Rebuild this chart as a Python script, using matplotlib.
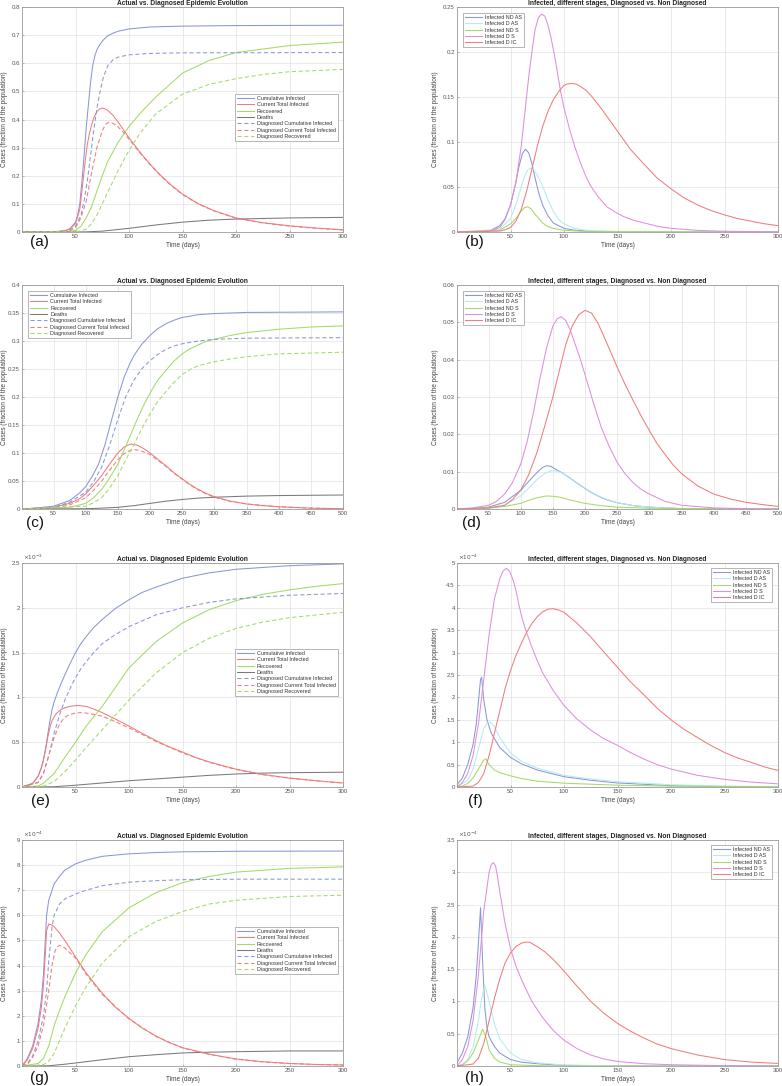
import numpy as np
import matplotlib
matplotlib.use('Agg')
import matplotlib.pyplot as plt
from matplotlib.ticker import FuncFormatter

plt.rcParams['font.family'] = ['Liberation Sans', 'DejaVu Sans']

# ---------------- data ----------------
evo_labels = ['Cumulative Infected', 'Current Total Infected', 'Recovered', 'Deaths',
              'Diagnosed Cumulative Infected', 'Diagnosed Current Total Infected',
              'Diagnosed Recovered']
stage_labels = ['Infected ND AS', 'Infected D AS', 'Infected ND S', 'Infected D S', 'Infected D IC']

# (a) fraction of population
a_cum_t = [0, 30, 40, 45, 50, 52, 54, 56, 58, 60, 62, 64, 66, 68, 70, 73, 76, 80, 85, 90, 100, 120, 150, 200, 300]
a_cum_v = [0, 0.001, 0.004, 0.012, 0.035, 0.06, 0.1, 0.18, 0.27, 0.37, 0.45, 0.53, 0.59, 0.625, 0.648, 0.668, 0.683, 0.697, 0.707, 0.714, 0.722, 0.729, 0.732, 0.734, 0.735]
a_cur_t = [0, 30, 40, 45, 50, 54, 57, 59, 61, 63, 65, 67, 70, 72, 74, 76, 78, 80, 85, 90, 95, 100, 105, 110, 115, 120, 130, 140, 150, 165, 180, 200, 225, 250, 275, 300]
a_cur_v = [0, 0.001, 0.004, 0.011, 0.03, 0.08, 0.18, 0.25, 0.31, 0.35, 0.38, 0.405, 0.428, 0.436, 0.44, 0.44, 0.437, 0.433, 0.415, 0.39, 0.362, 0.335, 0.31, 0.285, 0.262, 0.24, 0.2, 0.165, 0.135, 0.1, 0.075, 0.05, 0.033, 0.022, 0.014, 0.008]
a_rec_t = [0, 45, 50, 55, 60, 65, 70, 75, 80, 90, 100, 110, 125, 150, 175, 200, 250, 300]
a_rec_v = [0, 0.002, 0.006, 0.02, 0.05, 0.09, 0.145, 0.2, 0.25, 0.32, 0.375, 0.42, 0.48, 0.565, 0.61, 0.638, 0.663, 0.675]
a_dea_t = [0, 60, 75, 100, 125, 150, 175, 200, 250, 300]
a_dea_v = [0, 0.0005, 0.003, 0.013, 0.025, 0.035, 0.042, 0.046, 0.05, 0.052]
a_dcum_t = [0, 35, 45, 50, 55, 58, 61, 64, 67, 70, 73, 76, 80, 85, 90, 100, 120, 150, 300]
a_dcum_v = [0, 0.001, 0.007, 0.02, 0.06, 0.11, 0.18, 0.27, 0.36, 0.44, 0.5, 0.55, 0.59, 0.612, 0.622, 0.63, 0.635, 0.637, 0.638]
a_dcur_t = [0, 35, 45, 50, 55, 60, 65, 70, 75, 78, 81, 84, 87, 90, 95, 100, 110, 120, 130, 140, 150, 165, 180, 200, 225, 250, 275, 300]
a_dcur_v = [0, 0.001, 0.006, 0.015, 0.05, 0.11, 0.21, 0.30, 0.36, 0.382, 0.39, 0.388, 0.382, 0.373, 0.353, 0.33, 0.282, 0.238, 0.198, 0.163, 0.133, 0.099, 0.074, 0.049, 0.032, 0.021, 0.013, 0.007]
a_drec_t = [0, 50, 55, 60, 65, 70, 75, 80, 90, 100, 110, 125, 150, 175, 200, 225, 250, 300]
a_drec_v = [0, 0.001, 0.004, 0.01, 0.03, 0.06, 0.1, 0.14, 0.22, 0.29, 0.35, 0.42, 0.49, 0.525, 0.545, 0.56, 0.57, 0.578]

# (b)
b_ndas_t = [0, 30, 40, 45, 50, 55, 58, 61, 64, 67, 70, 73, 76, 80, 85, 90, 100, 110, 130, 300]
b_ndas_v = [0, 0.001, 0.007, 0.015, 0.03, 0.055, 0.073, 0.087, 0.092, 0.088, 0.076, 0.06, 0.045, 0.03, 0.018, 0.01, 0.004, 0.002, 0.0005, 0]
b_das_t = [0, 40, 50, 55, 60, 63, 66, 69, 72, 75, 78, 81, 85, 90, 95, 100, 110, 120, 150, 300]
b_das_v = [0, 0.003, 0.015, 0.03, 0.05, 0.061, 0.069, 0.071, 0.069, 0.063, 0.056, 0.048, 0.036, 0.023, 0.014, 0.009, 0.004, 0.002, 0.0005, 0]
b_nds_t = [0, 40, 50, 55, 60, 63, 66, 69, 72, 75, 80, 85, 90, 100, 120, 300]
b_nds_v = [0, 0.002, 0.009, 0.015, 0.023, 0.027, 0.028, 0.026, 0.021, 0.017, 0.01, 0.006, 0.004, 0.002, 0.0005, 0]
b_ds_t = [0, 30, 40, 45, 50, 55, 60, 62, 65, 67, 70, 73, 76, 79, 82, 85, 88, 91, 94, 97, 100, 105, 110, 115, 120, 125, 132, 140, 148, 156, 165, 175, 187, 200, 225, 250, 300]
b_ds_v = [0, 0.001, 0.005, 0.014, 0.03, 0.055, 0.095, 0.117, 0.15, 0.172, 0.2, 0.225, 0.238, 0.242, 0.24, 0.23, 0.215, 0.197, 0.176, 0.155, 0.138, 0.115, 0.095, 0.078, 0.063, 0.051, 0.039, 0.028, 0.022, 0.017, 0.013, 0.01, 0.0065, 0.004, 0.0018, 0.0008, 0.0002]
b_dic_t = [0, 40, 45, 50, 55, 60, 65, 70, 75, 80, 85, 90, 95, 100, 103, 107, 111, 115, 120, 125, 135, 150, 162, 175, 187, 200, 212, 225, 237, 250, 262, 275, 287, 300]
b_dic_v = [0, 0.001, 0.0025, 0.005, 0.012, 0.025, 0.045, 0.07, 0.095, 0.117, 0.134, 0.147, 0.156, 0.163, 0.1645, 0.165, 0.1645, 0.162, 0.158, 0.152, 0.137, 0.112, 0.092, 0.075, 0.06, 0.048, 0.038, 0.03, 0.024, 0.019, 0.015, 0.012, 0.0092, 0.007]

# (c)
c_cum_t = [1, 25, 50, 75, 90, 100, 110, 120, 130, 140, 150, 160, 168, 175, 187, 200, 212, 225, 237, 250, 275, 300, 350, 500]
c_cum_v = [0, 0.002, 0.005, 0.015, 0.028, 0.04, 0.058, 0.08, 0.115, 0.158, 0.2, 0.236, 0.258, 0.274, 0.294, 0.31, 0.322, 0.331, 0.337, 0.342, 0.347, 0.349, 0.351, 0.352]
c_cur_t = [1, 50, 75, 90, 100, 112, 125, 137, 150, 160, 170, 180, 190, 200, 212, 225, 237, 250, 262, 275, 287, 300, 325, 350, 375, 400, 450, 500]
c_cur_v = [0, 0.003, 0.01, 0.018, 0.027, 0.042, 0.06, 0.08, 0.1, 0.111, 0.116, 0.114, 0.108, 0.1, 0.089, 0.077, 0.065, 0.054, 0.044, 0.035, 0.028, 0.022, 0.014, 0.009, 0.006, 0.004, 0.0015, 0.0005]
c_rec_t = [1, 75, 100, 112, 125, 137, 150, 160, 170, 180, 190, 200, 212, 225, 237, 250, 262, 275, 287, 300, 325, 350, 400, 450, 500]
c_rec_v = [0, 0.003, 0.01, 0.02, 0.035, 0.055, 0.08, 0.106, 0.133, 0.16, 0.185, 0.207, 0.23, 0.248, 0.264, 0.277, 0.286, 0.293, 0.299, 0.303, 0.31, 0.315, 0.321, 0.325, 0.327]
c_dea_t = [1, 100, 125, 150, 175, 200, 225, 250, 275, 300, 350, 400, 500]
c_dea_v = [0, 0.0005, 0.0015, 0.003, 0.006, 0.01, 0.014, 0.017, 0.0195, 0.021, 0.023, 0.024, 0.025]
c_dcum_t = [1, 50, 75, 100, 112, 125, 137, 150, 162, 175, 187, 200, 212, 225, 237, 250, 275, 300, 350, 500]
c_dcum_v = [0, 0.003, 0.012, 0.03, 0.048, 0.075, 0.113, 0.16, 0.2, 0.23, 0.25, 0.265, 0.276, 0.285, 0.291, 0.295, 0.3, 0.303, 0.305, 0.306]
c_dcur_t = [1, 50, 75, 100, 112, 125, 137, 150, 160, 168, 175, 183, 192, 200, 212, 225, 237, 250, 262, 275, 287, 300, 325, 350, 400, 450, 500]
c_dcur_v = [0, 0.002, 0.007, 0.02, 0.033, 0.05, 0.069, 0.088, 0.099, 0.104, 0.106, 0.105, 0.101, 0.097, 0.087, 0.076, 0.064, 0.053, 0.043, 0.034, 0.027, 0.021, 0.0135, 0.009, 0.004, 0.0015, 0.0005]
c_drec_t = [1, 100, 112, 125, 137, 150, 162, 175, 187, 200, 212, 225, 237, 250, 262, 275, 300, 325, 350, 400, 500]
c_drec_v = [0, 0.005, 0.011, 0.02, 0.037, 0.06, 0.087, 0.115, 0.143, 0.17, 0.192, 0.21, 0.226, 0.24, 0.249, 0.256, 0.263, 0.268, 0.272, 0.277, 0.28]

# (d)
d_ndas_t = [1, 25, 50, 75, 100, 112, 125, 133, 140, 147, 155, 165, 175, 187, 200, 212, 225, 237, 250, 275, 300, 350, 500]
d_ndas_v = [0, 0.0001, 0.0005, 0.0018, 0.005, 0.0073, 0.0097, 0.011, 0.0116, 0.0114, 0.0106, 0.0096, 0.0085, 0.007, 0.0055, 0.0042, 0.0031, 0.0023, 0.0017, 0.0009, 0.0005, 0.0001, 0]
d_das_t = [1, 50, 75, 100, 112, 125, 137, 148, 158, 167, 175, 187, 200, 212, 225, 237, 250, 275, 300, 350, 500]
d_das_v = [0, 0.0002, 0.001, 0.0035, 0.0055, 0.0078, 0.0095, 0.0103, 0.0101, 0.0094, 0.0086, 0.0071, 0.0056, 0.0043, 0.0032, 0.0024, 0.0017, 0.0009, 0.0005, 0.0001, 0]
d_nds_t = [1, 50, 75, 100, 112, 125, 140, 150, 160, 175, 200, 225, 250, 300, 500]
d_nds_v = [0, 0.0002, 0.0007, 0.0015, 0.0023, 0.003, 0.0035, 0.0034, 0.0032, 0.0025, 0.0015, 0.0009, 0.0005, 0.0002, 0]
d_ds_t = [1, 25, 50, 62, 75, 87, 100, 110, 120, 130, 140, 150, 157, 163, 170, 177, 185, 193, 200, 212, 225, 237, 250, 262, 275, 287, 300, 325, 350, 400, 450, 500]
d_ds_v = [0, 0.0003, 0.001, 0.002, 0.004, 0.007, 0.012, 0.018, 0.026, 0.035, 0.043, 0.049, 0.051, 0.0515, 0.0505, 0.048, 0.044, 0.04, 0.036, 0.029, 0.022, 0.017, 0.0125, 0.0095, 0.007, 0.0053, 0.004, 0.002, 0.001, 0.0003, 0.0001, 0]
d_dic_t = [1, 50, 75, 87, 100, 112, 125, 137, 150, 160, 170, 180, 190, 200, 210, 220, 230, 240, 250, 262, 275, 287, 300, 312, 325, 337, 350, 375, 400, 425, 450, 475, 500]
d_dic_v = [0, 0.0003, 0.001, 0.0025, 0.005, 0.009, 0.015, 0.022, 0.03, 0.037, 0.044, 0.049, 0.052, 0.0532, 0.0525, 0.0498, 0.046, 0.042, 0.038, 0.0335, 0.029, 0.025, 0.021, 0.0175, 0.0145, 0.0118, 0.0095, 0.0062, 0.004, 0.0027, 0.0018, 0.0012, 0.0007]

# (e) in units of 1e-3
e_cum_t = [0, 10, 15, 18, 20, 22, 24, 26, 28, 30, 33, 36, 40, 45, 50, 55, 60, 67, 75, 87, 100, 112, 125, 150, 175, 200, 250, 300]
e_cum_v = [0, 0.04, 0.12, 0.21, 0.3, 0.42, 0.58, 0.73, 0.86, 0.95, 1.05, 1.14, 1.25, 1.38, 1.5, 1.6, 1.68, 1.78, 1.87, 1.99, 2.09, 2.17, 2.23, 2.33, 2.39, 2.43, 2.47, 2.49]
e_cur_t = [0, 10, 15, 18, 20, 22, 24, 26, 28, 32, 36, 40, 45, 52, 60, 67, 75, 87, 100, 112, 125, 137, 150, 162, 175, 187, 200, 225, 250, 275, 300]
e_cur_v = [0, 0.04, 0.12, 0.21, 0.3, 0.42, 0.55, 0.66, 0.74, 0.82, 0.86, 0.885, 0.9, 0.91, 0.9, 0.87, 0.83, 0.76, 0.68, 0.6, 0.52, 0.45, 0.39, 0.33, 0.28, 0.24, 0.2, 0.14, 0.1, 0.07, 0.045]
e_rec_t = [0, 15, 20, 30, 40, 50, 60, 75, 100, 125, 150, 175, 200, 225, 250, 275, 300]
e_rec_v = [0, 0.01, 0.04, 0.15, 0.33, 0.5, 0.68, 0.9, 1.33, 1.62, 1.83, 1.98, 2.08, 2.15, 2.2, 2.24, 2.27]
e_dea_t = [0, 30, 50, 75, 100, 125, 150, 175, 200, 225, 250, 300]
e_dea_v = [0, 0.003, 0.02, 0.045, 0.07, 0.09, 0.11, 0.13, 0.145, 0.155, 0.16, 0.165]
e_dcum_t = [0, 15, 20, 25, 28, 30, 35, 40, 45, 50, 55, 60, 67, 75, 87, 100, 125, 150, 175, 200, 250, 300]
e_dcum_v = [0, 0.05, 0.15, 0.35, 0.5, 0.6, 0.8, 0.97, 1.1, 1.22, 1.32, 1.4, 1.5, 1.6, 1.7, 1.79, 1.92, 2.0, 2.06, 2.1, 2.14, 2.16]
e_dcur_t = [0, 15, 20, 25, 28, 30, 35, 40, 45, 50, 55, 60, 67, 75, 87, 100, 125, 150, 175, 200, 225, 250, 275, 300]
e_dcur_v = [0, 0.05, 0.15, 0.35, 0.47, 0.55, 0.7, 0.78, 0.81, 0.825, 0.83, 0.825, 0.81, 0.79, 0.73, 0.66, 0.51, 0.38, 0.275, 0.195, 0.137, 0.098, 0.068, 0.044]
e_drec_t = [0, 20, 30, 40, 50, 60, 75, 100, 125, 150, 175, 200, 225, 250, 275, 300]
e_drec_v = [0, 0.01, 0.06, 0.17, 0.3, 0.44, 0.64, 0.97, 1.27, 1.5, 1.66, 1.77, 1.84, 1.89, 1.92, 1.95]

# (f) in units of 1e-4
f_ndas_t = [0, 5, 10, 15, 18, 20, 22, 23, 25, 28, 32, 40, 50, 60, 75, 100, 125, 150, 200, 250, 300]
f_ndas_v = [0.05, 0.2, 0.5, 0.95, 1.4, 1.9, 2.4, 2.45, 1.95, 1.5, 1.2, 0.88, 0.66, 0.52, 0.38, 0.23, 0.15, 0.09, 0.03, 0.01, 0.005]
f_das_t = [0, 10, 15, 20, 25, 28, 30, 32, 35, 40, 50, 60, 75, 100, 125, 150, 200, 250, 300]
f_das_v = [0, 0.15, 0.4, 0.85, 1.3, 1.42, 1.45, 1.43, 1.35, 1.1, 0.76, 0.58, 0.42, 0.26, 0.18, 0.12, 0.05, 0.02, 0.01]
f_nds_t = [0, 5, 10, 15, 20, 25, 27, 30, 35, 40, 50, 60, 75, 100, 150, 200, 300]
f_nds_v = [0, 0.02, 0.08, 0.2, 0.4, 0.6, 0.63, 0.5, 0.38, 0.32, 0.25, 0.19, 0.13, 0.085, 0.04, 0.02, 0.005]
f_ds_t = [0, 5, 10, 15, 20, 25, 30, 35, 40, 43, 46, 49, 52, 55, 58, 61, 65, 70, 75, 80, 90, 100, 112, 125, 137, 150, 162, 175, 187, 200, 225, 250, 275, 300]
f_ds_v = [0, 0.1, 0.3, 0.7, 1.4, 2.4, 3.4, 4.2, 4.65, 4.82, 4.88, 4.82, 4.65, 4.4, 4.05, 3.75, 3.45, 3.12, 2.82, 2.55, 2.15, 1.82, 1.52, 1.27, 1.08, 0.93, 0.77, 0.62, 0.5, 0.4, 0.26, 0.17, 0.11, 0.07]
f_dic_t = [0, 15, 20, 25, 30, 35, 40, 45, 50, 55, 60, 65, 70, 75, 80, 85, 90, 95, 100, 112, 125, 137, 150, 162, 175, 187, 200, 212, 225, 237, 250, 262, 275, 287, 300]
f_dic_v = [0, 0.02, 0.1, 0.3, 0.7, 1.2, 1.7, 2.2, 2.6, 2.93, 3.2, 3.45, 3.65, 3.8, 3.91, 3.97, 3.98, 3.95, 3.9, 3.66, 3.35, 3.02, 2.67, 2.35, 2.05, 1.76, 1.5, 1.29, 1.1, 0.93, 0.77, 0.65, 0.55, 0.45, 0.37]

# (g) in units of 1e-4
g_cum_t = [0, 5, 10, 15, 18, 20, 22, 23, 25, 30, 35, 40, 50, 60, 75, 100, 125, 150, 200, 300]
g_cum_v = [0, 0.3, 0.8, 1.7, 2.6, 3.6, 5.2, 6.0, 6.6, 7.25, 7.55, 7.8, 8.05, 8.2, 8.35, 8.45, 8.5, 8.53, 8.55, 8.56]
g_cur_t = [0, 5, 10, 15, 18, 20, 22, 23, 25, 27, 30, 35, 40, 50, 60, 75, 87, 100, 112, 125, 137, 150, 175, 200, 225, 250, 275, 300]
g_cur_v = [0, 0.25, 0.7, 1.5, 2.3, 3.2, 4.6, 5.4, 5.65, 5.63, 5.55, 5.3, 5.0, 4.35, 3.7, 2.9, 2.35, 1.9, 1.52, 1.2, 0.94, 0.73, 0.47, 0.28, 0.17, 0.1, 0.06, 0.04]
g_rec_t = [0, 15, 20, 25, 30, 35, 40, 50, 60, 75, 100, 125, 150, 175, 200, 250, 300]
g_rec_v = [0, 0.1, 0.3, 0.8, 1.6, 2.2, 2.75, 3.7, 4.45, 5.35, 6.3, 6.9, 7.3, 7.55, 7.72, 7.87, 7.93]
g_dea_t = [0, 25, 40, 50, 75, 100, 125, 150, 175, 200, 250, 300]
g_dea_v = [0, 0.01, 0.07, 0.12, 0.25, 0.37, 0.45, 0.52, 0.55, 0.57, 0.6, 0.6]
g_dcum_t = [0, 5, 10, 15, 20, 23, 25, 28, 30, 35, 40, 50, 60, 75, 100, 125, 150, 200, 300]
g_dcum_v = [0, 0.1, 0.4, 1.0, 2.0, 3.0, 4.2, 5.5, 6.0, 6.45, 6.65, 6.85, 7.0, 7.18, 7.32, 7.38, 7.42, 7.44, 7.44]
g_dcur_t = [0, 5, 10, 15, 20, 25, 28, 31, 33, 35, 37, 40, 50, 60, 75, 100, 125, 150, 175, 200, 225, 250, 275, 300]
g_dcur_v = [0, 0.05, 0.35, 0.8, 1.6, 3.0, 4.0, 4.6, 4.75, 4.8, 4.78, 4.7, 4.3, 3.65, 2.85, 1.87, 1.18, 0.72, 0.46, 0.27, 0.16, 0.1, 0.06, 0.04]
g_drec_t = [0, 20, 25, 30, 35, 40, 50, 60, 75, 100, 125, 150, 175, 200, 250, 300]
g_drec_v = [0, 0.05, 0.2, 0.5, 1.0, 1.5, 2.4, 3.15, 4.1, 5.15, 5.75, 6.15, 6.45, 6.6, 6.75, 6.8]

# (h) in units of 1e-4
h_ndas_t = [0, 5, 10, 15, 18, 20, 22, 24, 26, 28, 30, 35, 40, 50, 60, 75, 100, 150, 300]
h_ndas_v = [0.05, 0.2, 0.45, 0.9, 1.4, 1.9, 2.45, 1.6, 0.9, 0.6, 0.45, 0.3, 0.2, 0.1, 0.06, 0.035, 0.01, 0.002, 0]
h_das_t = [0, 5, 10, 15, 20, 23, 26, 30, 35, 40, 50, 60, 75, 100, 150, 300]
h_das_v = [0, 0.02, 0.1, 0.3, 0.7, 1.05, 1.25, 1.0, 0.65, 0.42, 0.2, 0.1, 0.05, 0.015, 0.002, 0]
h_nds_t = [0, 5, 10, 15, 20, 24, 27, 30, 35, 40, 50, 75, 100, 300]
h_nds_v = [0, 0.02, 0.08, 0.2, 0.4, 0.57, 0.45, 0.25, 0.12, 0.06, 0.02, 0.005, 0, 0]
h_ds_t = [0, 5, 10, 15, 20, 25, 30, 32, 34, 36, 38, 40, 45, 50, 55, 60, 65, 70, 80, 90, 100, 112, 125, 137, 150, 175, 200, 250, 300]
h_ds_v = [0, 0.1, 0.3, 0.7, 1.4, 2.4, 3.0, 3.12, 3.15, 3.1, 2.92, 2.7, 2.2, 1.82, 1.55, 1.35, 1.17, 1.0, 0.75, 0.55, 0.4, 0.27, 0.17, 0.11, 0.07, 0.035, 0.02, 0.005, 0]
h_dic_t = [0, 15, 20, 25, 30, 35, 40, 45, 50, 55, 60, 64, 68, 75, 82, 90, 100, 112, 125, 137, 150, 162, 175, 187, 200, 225, 250, 275, 300]
h_dic_v = [0, 0.03, 0.12, 0.35, 0.7, 1.05, 1.35, 1.6, 1.75, 1.85, 1.9, 1.92, 1.915, 1.85, 1.77, 1.65, 1.47, 1.24, 1.0, 0.82, 0.66, 0.54, 0.43, 0.34, 0.27, 0.17, 0.1, 0.06, 0.04]

# ---------------- figure ----------------
W, H = 782, 1086
fig = plt.figure(figsize=(W / 100, H / 100), dpi=100)

def box(l, t, r, b):
    return [l / W, 1 - b / H, (r - l) / W, (b - t) / H]

BLUE, RED, GREEN, BLACK = '#8a96d8', '#f07c7c', '#a2db66', '#7a7a7a'
MAG, CYAN = '#dd8fdd', '#b2ecf0'
DASH = (0, (4, 2.5))
LW = 0.75

def setup(ax, xlim, xticks, ylim, yticks, scale, power, title):
    ax.set_xlim(*xlim)
    ax.set_ylim(*ylim)
    ax.set_xticks(xticks)
    ax.set_yticks(yticks)
    ax.xaxis.set_major_formatter(FuncFormatter(lambda v, p: '%g' % v))
    ax.yaxis.set_major_formatter(FuncFormatter(lambda v, p: '%g' % round(v / scale, 6)))
    ax.grid(True, color='#e6e6e6', lw=0.6)
    ax.set_axisbelow(True)
    for s in ax.spines.values():
        s.set_color('#9a9a9a')
        s.set_linewidth(0.6)
    ax.tick_params(direction='in', length=1.5, width=0.5, colors='#9a9a9a',
                   labelcolor='#555555', labelsize=4.4, pad=1.5)
    ax.set_title(title, fontsize=4.8, fontweight='bold', pad=1.5, color='#222222')
    ax.set_xlabel('Time (days)', fontsize=4.7, color='#444444')
    ax.set_ylabel('Cases (fraction of the population)', fontsize=4.7, color='#444444')
    ax.xaxis.set_label_coords(0.5, -0.045)
    if power:
        ax.text(0.003, 1.003, r'$\times10^{%d}$' % power, transform=ax.transAxes,
                fontsize=4.2, color='#555555', va='bottom', ha='left')

def legend(ax, loc, anchor):
    lg = ax.legend(loc=loc, bbox_to_anchor=anchor, fontsize=3.9, frameon=True,
                   fancybox=False, framealpha=1, edgecolor='#999999',
                   handlelength=3.2, handletextpad=0.5, labelspacing=0.25,
                   borderpad=0.35, borderaxespad=0)
    lg.get_frame().set_linewidth(0.5)
    for t in lg.get_texts():
        t.set_color('#333333')

def evo(ax, scale, cum, cur, rec, dea, dcum, dcur, drec):
    series = [cum, cur, rec, dea, dcum, dcur, drec]
    cols = [BLUE, RED, GREEN, BLACK, BLUE, RED, GREEN]
    for i, (t, v) in enumerate(series):
        ls = '-' if i < 4 else DASH
        ax.plot(t, np.array(v) * scale, color=cols[i], lw=LW, ls=ls, label=evo_labels[i])

def stages(ax, scale, ndas, das, nds, ds, dic):
    cols = [BLUE, CYAN, GREEN, MAG, RED]
    for i, (t, v) in enumerate([ndas, das, nds, ds, dic]):
        ax.plot(t, np.array(v) * scale, color=cols[i], lw=LW, label=stage_labels[i])

T1 = 'Actual vs. Diagnosed Epidemic Evolution'
T2 = 'Infected, different stages, Diagnosed vs. Non Diagnosed'
x300 = [50, 100, 150, 200, 250, 300]
x500 = list(range(50, 501, 50))

# (a)
ax = fig.add_axes(box(22, 7, 343, 232))
evo(ax, 1, (a_cum_t, a_cum_v), (a_cur_t, a_cur_v), (a_rec_t, a_rec_v), (a_dea_t, a_dea_v),
    (a_dcum_t, a_dcum_v), (a_dcur_t, a_dcur_v), (a_drec_t, a_drec_v))
setup(ax, (0, 300), x300, (0, 0.8), np.arange(0, 0.81, 0.1), 1, None, T1)
ax.yaxis.set_label_coords(-0.044, 0.5)
legend(ax, 'upper right', (0.984, 0.613))

# (b)
ax = fig.add_axes(box(457, 7, 778, 232))
stages(ax, 1, (b_ndas_t, b_ndas_v), (b_das_t, b_das_v), (b_nds_t, b_nds_v), (b_ds_t, b_ds_v), (b_dic_t, b_dic_v))
setup(ax, (0, 300), x300, (0, 0.25), np.arange(0, 0.251, 0.05), 1, None, T2)
ax.yaxis.set_label_coords(-0.056, 0.5)
legend(ax, 'upper left', (0.019, 0.973))

# (c)
ax = fig.add_axes(box(22, 285, 343, 509))
evo(ax, 1, (c_cum_t, c_cum_v), (c_cur_t, c_cur_v), (c_rec_t, c_rec_v), (c_dea_t, c_dea_v),
    (c_dcum_t, c_dcum_v), (c_dcur_t, c_dcur_v), (c_drec_t, c_drec_v))
setup(ax, (1, 500), x500, (0, 0.4), np.arange(0, 0.401, 0.05), 1, None, T1)
ax.yaxis.set_label_coords(-0.044, 0.5)
legend(ax, 'upper left', (0.019, 0.973))

# (d)
ax = fig.add_axes(box(457, 285, 778, 509))
stages(ax, 1, (d_ndas_t, d_ndas_v), (d_das_t, d_das_v), (d_nds_t, d_nds_v), (d_ds_t, d_ds_v), (d_dic_t, d_dic_v))
setup(ax, (1, 500), x500, (0, 0.06), np.arange(0, 0.0601, 0.01), 1, None, T2)
ax.yaxis.set_label_coords(-0.056, 0.5)
legend(ax, 'upper left', (0.019, 0.973))

# (e)
ax = fig.add_axes(box(22, 563, 343, 787))
evo(ax, 1e-3, (e_cum_t, e_cum_v), (e_cur_t, e_cur_v), (e_rec_t, e_rec_v), (e_dea_t, e_dea_v),
    (e_dcum_t, e_dcum_v), (e_dcur_t, e_dcur_v), (e_drec_t, e_drec_v))
setup(ax, (0, 300), x300, (0, 2.5e-3), np.arange(0, 2.51, 0.5) * 1e-3, 1e-3, -3, T1)
ax.yaxis.set_label_coords(-0.044, 0.5)
legend(ax, 'upper right', (0.984, 0.616))

# (f)
ax = fig.add_axes(box(457, 563, 778, 787))
stages(ax, 1e-4, (f_ndas_t, f_ndas_v), (f_das_t, f_das_v), (f_nds_t, f_nds_v), (f_ds_t, f_ds_v), (f_dic_t, f_dic_v))
setup(ax, (0, 300), x300, (0, 5e-4), np.arange(0, 5.01, 0.5) * 1e-4, 1e-4, -4, T2)
ax.yaxis.set_label_coords(-0.056, 0.5)
legend(ax, 'upper right', (0.98, 0.978))

# (g)
ax = fig.add_axes(box(22, 840, 343, 1066))
evo(ax, 1e-4, (g_cum_t, g_cum_v), (g_cur_t, g_cur_v), (g_rec_t, g_rec_v), (g_dea_t, g_dea_v),
    (g_dcum_t, g_dcum_v), (g_dcur_t, g_dcur_v), (g_drec_t, g_drec_v))
setup(ax, (0, 300), x300, (0, 9e-4), np.arange(0, 9.01, 1) * 1e-4, 1e-4, -4, T1)
ax.yaxis.set_label_coords(-0.044, 0.5)
legend(ax, 'upper right', (0.984, 0.615))

# (h)
ax = fig.add_axes(box(457, 840, 778, 1066))
stages(ax, 1e-4, (h_ndas_t, h_ndas_v), (h_das_t, h_das_v), (h_nds_t, h_nds_v), (h_ds_t, h_ds_v), (h_dic_t, h_dic_v))
setup(ax, (0, 300), x300, (0, 3.5e-4), np.arange(0, 3.51, 0.5) * 1e-4, 1e-4, -4, T2)
ax.yaxis.set_label_coords(-0.056, 0.5)
legend(ax, 'upper right', (0.98, 0.978))

# panel letters
letters = ['(a)', '(b)', '(c)', '(d)', '(e)', '(f)', '(g)', '(h)']
letter_pos = [(30, 235), (465, 235), (26, 516), (462, 516), (31, 794), (468, 794), (30, 1071), (465, 1071)]
for s, (px, py) in zip(letters, letter_pos):
    fig.text(px / W, 1 - py / H, s, fontsize=11, va='top', ha='left', color='#111111')

fig.savefig('out.png', dpi=100)
